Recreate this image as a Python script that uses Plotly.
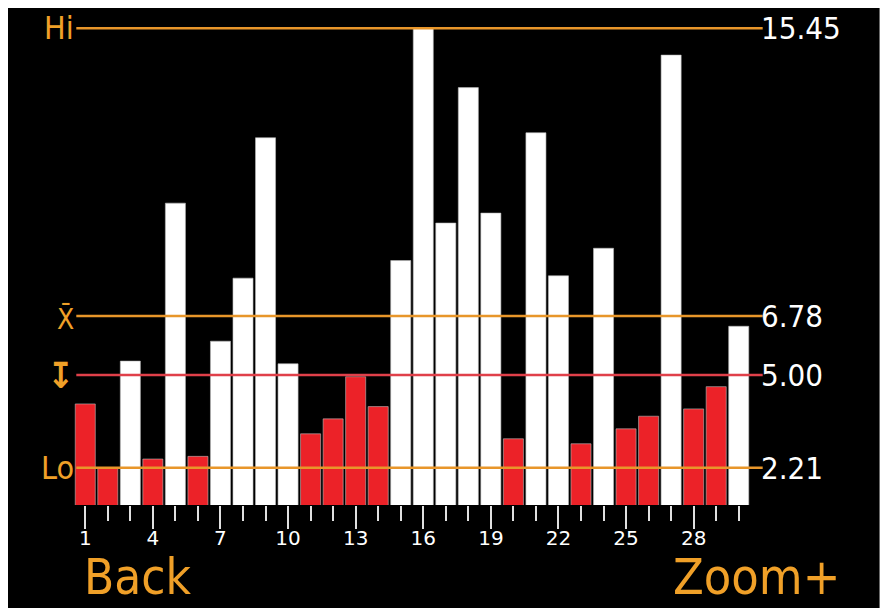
import plotly.graph_objects as go

# ---- data ----
samples = list(range(1, 31))
values = [4.13, 2.21, 5.42, 2.47, 10.18, 2.55, 6.02, 7.92, 12.15, 5.34,
          3.23, 3.68, 4.95, 4.05, 8.45, 15.45, 9.58, 13.66, 9.88, 3.08,
          12.30, 7.99, 2.93, 8.82, 3.38, 3.76, 14.64, 3.98, 4.65, 6.47]
hi_value = 15.45
mean_value = 6.78
threshold = 5.00
lo_value = 2.21
tick_vals = [1, 4, 7, 10, 13, 16, 19, 22, 25, 28]
tick_text = [str(v) for v in tick_vals]

# ---- style ----
ORANGE = "#F0A028"
LINE_OR = "#E8962A"
RED = "#EC2228"
RED_LINE = "#E0404A"
FONT = "DejaVu Sans Condensed, Liberation Sans Narrow, DejaVu Sans, sans-serif"
TICK_FONT = "DejaVu Sans, sans-serif"

bar_colors = ["#FFFFFF" if v > threshold else RED for v in values]

OFF = 8  # page body margin
W, H = 892 - 2 * OFF, 616 - 2 * OFF
left_px, right_px = 73.7 - OFF, 750.3 - OFF
top_px, bottom_px = 10 - OFF, 505 - OFF
zero_px = 541.0 - OFF
ppu = 33.19
y_min = (zero_px - bottom_px) / ppu
y_max = (zero_px - top_px) / ppu

def px_to_paper_x(px):
    return (px - OFF - left_px) / (right_px - left_px)

def px_to_paper_y(py):
    return (bottom_px - (py - OFF)) / (bottom_px - top_px)

fig = go.Figure()
fig.add_trace(go.Bar(
    x=samples, y=values,
    marker=dict(color=bar_colors, line=dict(color="#BBBBBB", width=0.6)),
    showlegend=False,
))

shapes = []
# black screen area
shapes.append(dict(type="rect", xref="paper", yref="paper",
                   x0=px_to_paper_x(0), x1=px_to_paper_x(880),
                   y0=px_to_paper_y(609), y1=px_to_paper_y(0),
                   fillcolor="black", line=dict(width=0), layer="below"))

lx0, lx1 = px_to_paper_x(76), px_to_paper_x(763)
for val, col in [(hi_value, LINE_OR), (mean_value, LINE_OR),
                 (threshold, RED_LINE), (lo_value, LINE_OR)]:
    shapes.append(dict(type="line", xref="paper", yref="y",
                       x0=lx0, x1=lx1, y0=val, y1=val,
                       line=dict(color=col, width=2.5), layer="above"))

annotations = []
left_labels = [(hi_value, "Hi", 32, 0), (mean_value, "X\u0304", 28, -3),
               (threshold, "<b>\u21a7</b>", 36, 0), (lo_value, "Lo", 32, 0)]
for val, txt, size, dy in left_labels:
    annotations.append(dict(xref="paper", yref="y", x=px_to_paper_x(76), y=val,
                            text=txt, showarrow=False, xanchor="right",
                            yanchor="middle", yshift=dy,
                            font=dict(family=FONT, size=size, color=ORANGE)))
for val in [hi_value, mean_value, threshold, lo_value]:
    annotations.append(dict(xref="paper", yref="y", x=px_to_paper_x(759), y=val,
                            text=f"{val:.2f}", showarrow=False, xanchor="left",
                            yanchor="middle",
                            font=dict(family=FONT, size=31, color="#FFFFFF")))

annotations.append(dict(xref="paper", yref="paper", x=px_to_paper_x(82),
                        y=px_to_paper_y(577), text="Back", showarrow=False,
                        xanchor="left", yanchor="middle",
                        font=dict(family=FONT, size=49, color=ORANGE)))
annotations.append(dict(xref="paper", yref="paper", x=px_to_paper_x(842),
                        y=px_to_paper_y(577), text="Zoom+", showarrow=False,
                        xanchor="right", yanchor="middle",
                        font=dict(family=FONT, size=50, color=ORANGE)))

fig.update_layout(
    width=W, height=H,
    margin=dict(l=left_px, r=W - right_px, t=top_px, b=H - bottom_px, pad=0),
    paper_bgcolor="white", plot_bgcolor="rgba(0,0,0,0)",
    bargap=0.11,
    shapes=shapes, annotations=annotations,
    xaxis=dict(range=[0.5, 30.5], tickmode="array", tickvals=tick_vals,
               ticktext=tick_text, ticks="outside", ticklen=23, tickwidth=2,
               tickcolor="#E0E0E0", showgrid=False, zeroline=False,
               showline=False, ticklabelstandoff=-8,
               tickfont=dict(family=TICK_FONT, size=20, color="#FFFFFF"),
               minor=dict(tickmode="linear", tick0=1, dtick=1, ticks="outside",
                          ticklen=15, tickwidth=2, tickcolor="#E0E0E0",
                          showgrid=False)),
    yaxis=dict(range=[y_min, y_max], showticklabels=False, showgrid=False,
               zeroline=False, showline=False, ticks=""),
)

fig.write_html("out.html")
